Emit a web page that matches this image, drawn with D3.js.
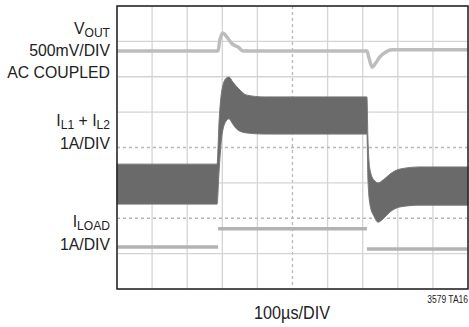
<!DOCTYPE html>
<html>
<head>
<meta charset="utf-8">
<script src="https://cdn.jsdelivr.net/npm/d3@7"></script>
<style>
  body { margin: 0; background: #fff; }
  text { font-family: "Liberation Sans", Arial, sans-serif; fill: #222; }
</style>
</head>
<body>
<svg width="469" height="327"></svg>
<script>
// time in µs (100µs/DIV), values in divisions from bottom of screen
const voutT = [0, 288, 293, 302, 311, 328, 345, 359, 712, 718, 727, 735, 749, 766, 783, 1000];
const voutV = [6.73, 6.73, 7.04, 7.24, 7.15, 6.93, 6.84, 6.73, 6.73, 6.53, 6.27, 6.36, 6.56, 6.70, 6.76, 6.76];

// inductor current envelope (ripple band), top and bottom edges
const ilT =   [0, 285, 291, 299, 311, 319, 330, 345, 370, 420, 712, 715, 721, 732, 744, 758, 778, 806, 863, 1000];
const ilTop = [3.53, 3.53, 4.78, 5.63, 5.96, 5.99, 5.85, 5.68, 5.48, 5.43, 5.43, 4.21, 3.36, 3.08, 3.00, 3.08, 3.25, 3.39, 3.45, 3.45];
const ilBot = [2.40, 2.40, 3.36, 4.35, 4.75, 4.81, 4.66, 4.49, 4.41, 4.38, 4.38, 3.08, 2.37, 2.06, 1.89, 1.98, 2.18, 2.32, 2.37, 2.37];

// load current steps
const iloadEdges = [0, 288, 712, 1000];
const iloadLevels = [1.19, 1.70, 1.13];

const xTicks = d3.range(0, 1001, 100);
const yTicks = d3.range(0, 9, 1);

const svg = d3.select("svg");
const x = d3.scaleLinear().domain([0, 1000]).range([117, 468]);
const y = d3.scaleLinear().domain([0, 8]).range([289, 6]);

// grid
const grid = svg.append("g");
grid.selectAll("line.vx")
  .data(xTicks)
  .enter()
  .append("line")
  .attr("x1", d => x(d)).attr("x2", d => x(d))
  .attr("y1", y(8)).attr("y2", y(0))
  .attr("stroke", d => d === 500 ? "#b8b8b8" : "#d4d4d4")
  .attr("stroke-dasharray", d => d === 500 ? "3,3" : null)
  .attr("stroke-width", 1.3);
grid.selectAll("line.hy")
  .data(yTicks)
  .enter()
  .append("line")
  .attr("y1", d => y(d)).attr("y2", d => y(d))
  .attr("x1", x(0)).attr("x2", x(1000))
  .attr("stroke", d => (d === 4 || d === 2) ? "#b8b8b8" : "#d4d4d4")
  .attr("stroke-dasharray", d => (d === 4 || d === 2) ? "3,3" : null)
  .attr("stroke-width", 1.3);

// inductor current band
const band = d3.area()
  .x((d, i) => x(ilT[i]))
  .y0((d, i) => y(ilBot[i]))
  .y1((d, i) => y(ilTop[i]))
  .curve(d3.curveMonotoneX);
svg.append("path")
  .attr("d", band(ilT))
  .attr("fill", "#6a6a6a")
  .attr("stroke", "#777")
  .attr("stroke-width", 1);

// VOUT trace
const line = d3.line()
  .x((d, i) => x(voutT[i]))
  .y((d, i) => y(voutV[i]))
  .curve(d3.curveMonotoneX);
svg.append("path")
  .attr("d", line(voutT))
  .attr("fill", "none")
  .attr("stroke", "#bdbdbd")
  .attr("stroke-width", 3.5);

// ILOAD trace
svg.selectAll("line.iload")
  .data(iloadLevels)
  .enter()
  .append("line")
  .attr("x1", (d, i) => x(iloadEdges[i]))
  .attr("x2", (d, i) => x(iloadEdges[i + 1]))
  .attr("y1", d => y(d)).attr("y2", d => y(d))
  .attr("stroke", "#b3b3b3")
  .attr("stroke-width", 3.5);

// frame
svg.append("rect")
  .attr("x", x(0)).attr("y", y(8))
  .attr("width", x(1000) - x(0)).attr("height", y(0) - y(8))
  .attr("fill", "none")
  .attr("stroke", "#222")
  .attr("stroke-width", 1.5);

// labels
function label(yPos, parts, size) {
  const t = svg.append("g")
    .attr("transform", `translate(110,${yPos}) scale(0.93,1)`)
    .append("text")
    .attr("text-anchor", "end")
    .style("font-size", size + "px");
  parts.forEach(p => {
    t.append("tspan")
      .attr("dy", p.dy || 0)
      .style("font-size", (p.size || size) + "px")
      .text(p.t);
  });
}
label(34, [{ t: "V" }, { t: "OUT", dy: 3, size: 13 }], 17);
label(56, [{ t: "500mV/DIV" }], 17);
label(78, [{ t: "AC COUPLED" }], 17);
label(126, [{ t: "I" }, { t: "L1", dy: 3, size: 13 }, { t: " + I", dy: -3 }, { t: "L2", dy: 3, size: 13 }], 17);
label(149, [{ t: "1A/DIV" }], 17);
label(227, [{ t: "I" }, { t: "LOAD", dy: 3, size: 13 }], 17);
label(250, [{ t: "1A/DIV" }], 17);

svg.append("g")
  .attr("transform", "translate(292,319) scale(0.9,1)")
  .append("text")
  .attr("text-anchor", "middle")
  .style("font-size", "18px")
  .text("100µs/DIV");

svg.append("g")
  .attr("transform", "translate(468,303) scale(0.85,1)")
  .append("text")
  .attr("text-anchor", "end")
  .style("font-size", "10px")
  .text("3579 TA16");
</script>
</body>
</html>
